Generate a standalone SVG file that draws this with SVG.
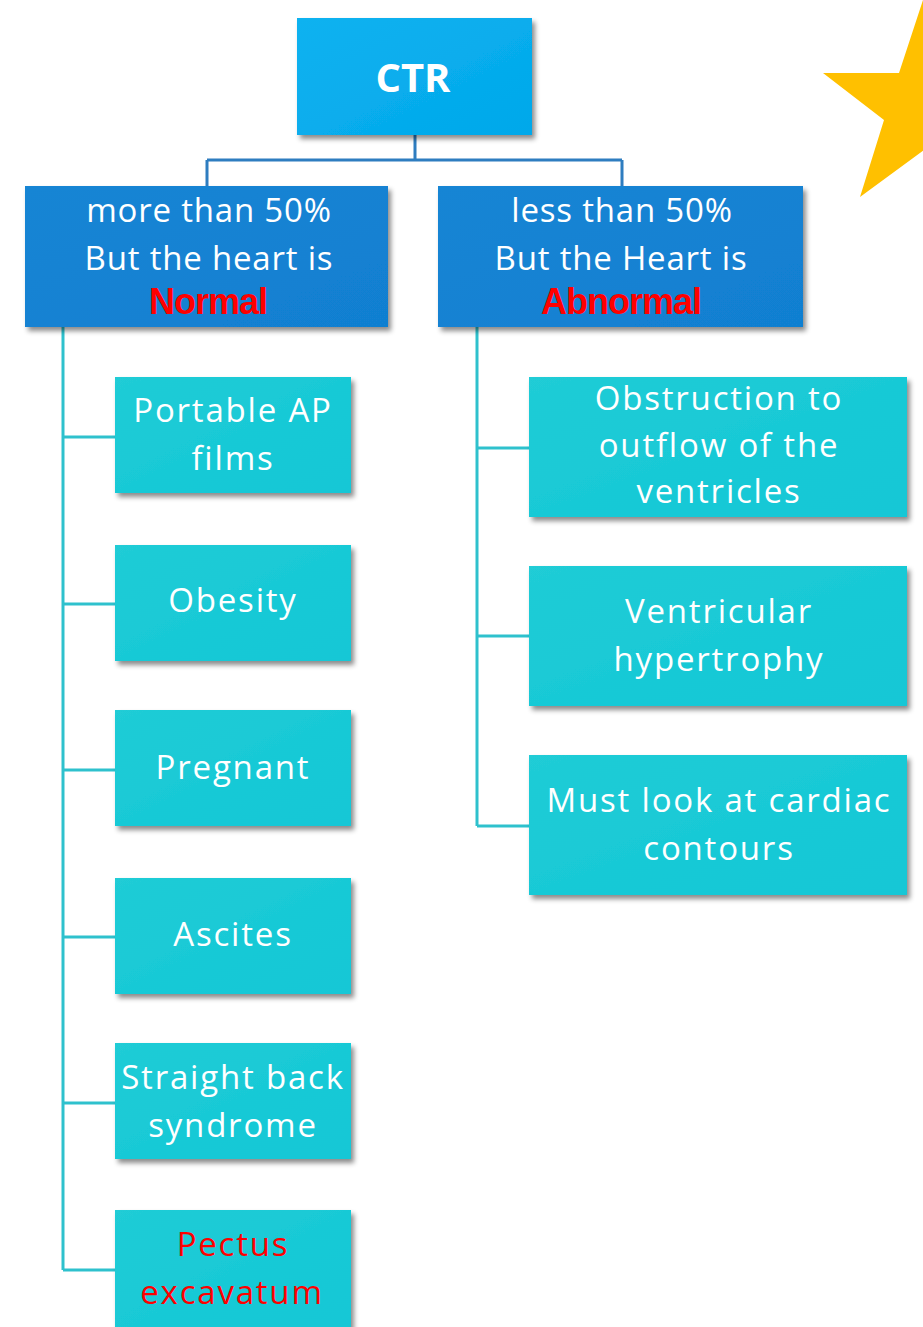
<svg xmlns="http://www.w3.org/2000/svg" width="923" height="1327" viewBox="0 0 923 1327">
<defs>
<filter id="sh" x="-10%" y="-10%" width="125%" height="130%">
<feDropShadow dx="3" dy="4" stdDeviation="2.5" flood-color="#000" flood-opacity="0.45"/>
</filter>
<linearGradient id="gTop" x1="0" y1="0" x2="1" y2="1"><stop offset="0" stop-color="#0DB2F0"/><stop offset="1" stop-color="#02A8EA"/></linearGradient>
<linearGradient id="gMid" x1="0" y1="0" x2="1" y2="1"><stop offset="0" stop-color="#1585D4"/><stop offset="1" stop-color="#117FD1"/></linearGradient>
<linearGradient id="gLeaf" x1="0" y1="0" x2="1" y2="1"><stop offset="0" stop-color="#20CCD6"/><stop offset="1" stop-color="#12C7D6"/></linearGradient>
<style>
.top{fill:url(#gTop);filter:url(#sh)}
.mid{fill:url(#gMid);filter:url(#sh)}
.leaf{fill:url(#gLeaf);filter:url(#sh)}
text{font-family:"Open Sans","Noto Sans","DejaVu Sans",sans-serif;text-anchor:middle;fill:#fff}
.t1{font-size:40px;font-weight:bold}
.t2{font-size:33px;letter-spacing:0.8px}
.t3{font-size:33px;letter-spacing:1.8px}
.red{fill:#FF0000}
.bold{font-family:"Liberation Sans","Noto Sans",sans-serif;font-weight:bold;font-size:36px;letter-spacing:-1px}
.cb{fill:none;stroke:#2E7DC0;stroke-width:3}
.ct{fill:none;stroke:#2EC1CD;stroke-width:3}
</style>
</defs>
<polygon points="823,73 899,73 924,-3 949,73 1025,73 964,118 987,197 924,150 860,197 884,120" fill="#FFC000"/>
<g id="connectors">
<path class="cb" d="M415,135 V160 M207,160 H622 M207,160 V186 M622,160 V186"/>
<path class="ct" d="M63,327 V1270 M63,437 H115 M63,604 H115 M63,770 H115 M63,937 H115 M63,1103 H115 M63,1270 H115"/>
<path class="ct" d="M477,327 V826 M477,448 H529 M477,636 H529 M477,826 H529"/>
</g>
<g id="ctr"><rect class="top" x="297" y="18" width="235" height="117"/><text class="t1" x="413" y="92">CTR</text></g>
<g id="more"><rect class="mid" x="25" y="186" width="363" height="141"/>
<text class="t2" x="209" y="222">more than 50%</text><text class="t2" x="209" y="270">But the heart is</text><text class="bold red" x="208" y="314">Normal</text></g>
<g id="less"><rect class="mid" x="438" y="186" width="365" height="141"/>
<text class="t2" x="622" y="222">less than 50%</text><text class="t2" x="621" y="270">But the Heart is</text><text class="bold red" x="621" y="314">Abnormal</text></g>
<g id="portable"><rect class="leaf" x="115" y="377" width="236" height="116"/><text class="t3" x="233" y="422">Portable AP</text><text class="t3" x="233" y="470">films</text></g>
<g id="obesity"><rect class="leaf" x="115" y="545" width="236" height="116"/><text class="t3" x="233" y="612">Obesity</text></g>
<g id="pregnant"><rect class="leaf" x="115" y="710" width="236" height="116"/><text class="t3" x="233" y="779">Pregnant</text></g>
<g id="ascites"><rect class="leaf" x="115" y="878" width="236" height="116"/><text class="t3" x="233" y="946">Ascites</text></g>
<g id="straight"><rect class="leaf" x="115" y="1043" width="236" height="116"/><text class="t3" x="233" y="1089">Straight back</text><text class="t3" x="233" y="1137">syndrome</text></g>
<g id="pectus"><rect class="leaf" x="115" y="1210" width="236" height="125"/><text class="t3 red" x="233" y="1256">Pectus</text><text class="t3 red" x="232" y="1304">excavatum</text></g>
<g id="obstruction"><rect class="leaf" x="529" y="377" width="378" height="140"/><text class="t3" x="719" y="410">Obstruction to</text><text class="t3" x="719" y="457">outflow of the</text><text class="t3" x="719" y="503">ventricles</text></g>
<g id="ventricular"><rect class="leaf" x="529" y="566" width="378" height="140"/><text class="t3" x="719" y="623">Ventricular</text><text class="t3" x="719" y="671">hypertrophy</text></g>
<g id="contours"><rect class="leaf" x="529" y="755" width="378" height="140"/><text class="t3" x="719" y="812">Must look at cardiac</text><text class="t3" x="719" y="860">contours</text></g>
</svg>
